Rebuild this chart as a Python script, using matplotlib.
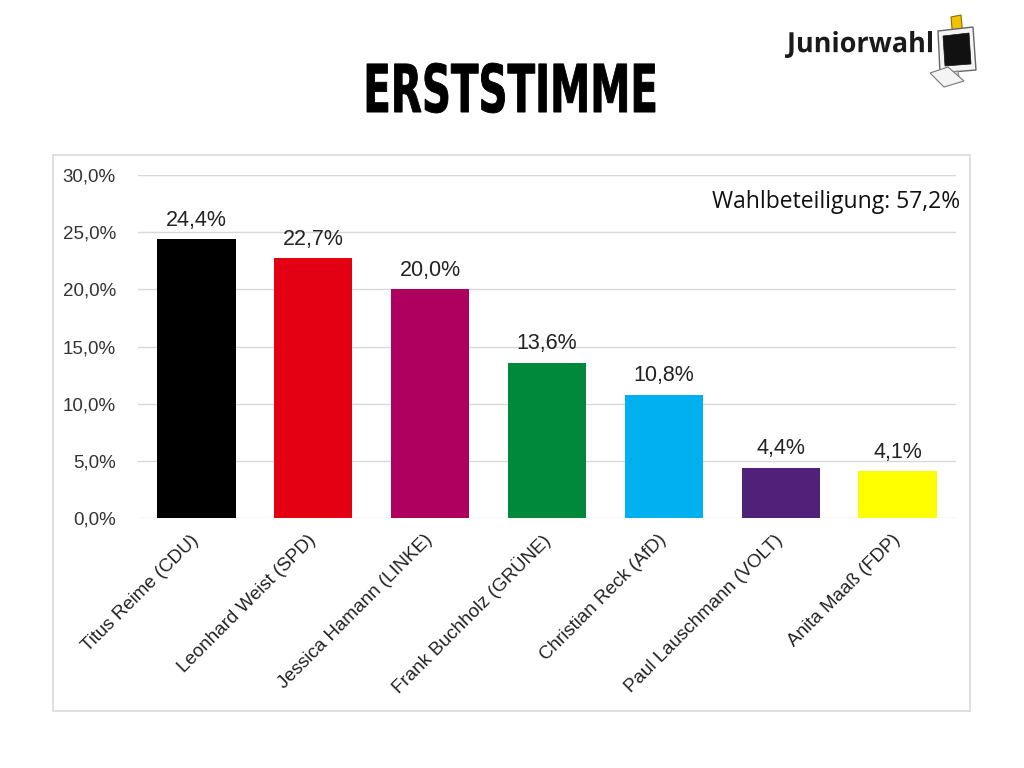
import numpy as np
import matplotlib.pyplot as plt
from matplotlib.patches import Rectangle, Polygon, PathPatch
from matplotlib.textpath import TextPath
from matplotlib.font_manager import FontProperties
from matplotlib.transforms import Affine2D, ScaledTranslation

candidates = [
    'Titus Reime (CDU)', 'Leonhard Weist (SPD)', 'Jessica Hamann (LINKE)',
    'Frank Buchholz (GRÜNE)', 'Christian Reck (AfD)', 'Paul Lauschmann (VOLT)',
    'Anita Maaß (FDP)',
]
shares = [24.4, 22.7, 20.0, 13.6, 10.8, 4.4, 4.1]
colors = ['#000000', '#E30013', '#B0005F', '#00893A', '#00B0F0', '#512179', '#FFFF00']
turnout = 57.2
yticks = [0, 5, 10, 15, 20, 25, 30]

W, H = 1024, 768


def de(v):
    return f'{v:.1f}'.replace('.', ',') + '%'


def px(xp, yp):
    # pixel position (from top-left) -> figure fraction
    return (xp / W, 1 - yp / H)


def fitted_text(fig, s, box, family, weight='bold', color='black', stroke=0.0):
    # draw text as a path stretched into a pixel box (x0, y0, x1, y1), y from top
    tp = TextPath((0, 0), s, size=100, prop=FontProperties(family=family, weight=weight))
    ext = tp.get_extents()
    x0, y0, x1, y1 = box
    tr = (Affine2D().translate(-ext.x0, -ext.y0)
          .scale((x1 - x0) / ext.width, (y1 - y0) / ext.height)
          .translate(x0, H - y1).scale(1 / W, 1 / H))
    fig.patches.append(PathPatch(tp, transform=tr + fig.transFigure, facecolor=color,
                                 edgecolor=color if stroke else 'none', lw=stroke))


plt.rcParams['font.family'] = ['Liberation Sans', 'DejaVu Sans']

fig = plt.figure(figsize=(W / 100, H / 100), dpi=100)
fig.patch.set_facecolor('white')

# chart frame
fig.patches.append(Rectangle(px(53, 711), 917 / W, 556 / H, transform=fig.transFigure,
                             fill=False, edgecolor='#d9d9d9', linewidth=1.2))

ax = fig.add_axes([138 / W, 1 - 518 / H, 818 / W, 343 / H])
x = np.arange(len(candidates))
ax.bar(x, shares, width=0.67, color=colors, zorder=3)
for xi, v in zip(x, shares):
    ax.annotate(de(v), (xi, v), xytext=(0, 6), textcoords='offset points',
                ha='center', va='bottom', fontsize=15.5, color='#222222')

ax.set_xlim(-0.5, len(candidates) - 0.5)
ax.set_ylim(0, 30)
ax.set_yticks(yticks)
ax.set_yticklabels([de(t) for t in yticks], fontsize=13.5, color='#333333')
ax.set_xticks(x)
ax.set_xticklabels(candidates, rotation=45, ha='right', va='center',
                   rotation_mode='anchor', fontsize=13.5, color='#222222')
shift = ScaledTranslation(6 / 100, 0, fig.dpi_scale_trans)
for lab in ax.get_xticklabels():
    lab.set_transform(lab.get_transform() + shift)
ax.tick_params(axis='y', length=0, pad=16)
ax.tick_params(axis='x', length=0, pad=14)
ax.yaxis.grid(True, color='#d9d9d9', linewidth=1, zorder=0)
for s in ax.spines.values():
    s.set_visible(False)

fig.text(960 / W, 1 - 202 / H, f'Wahlbeteiligung: {de(turnout)}',
         ha='right', va='center', fontsize=16.5, family=['Open Sans', 'DejaVu Sans'],
         color='#111111')

# title
fitted_text(fig, 'ERSTSTIMME', (367, 63, 655, 113), 'DejaVu Sans', stroke=0.6)

# logo
fitted_text(fig, 'Juniorwahl', (785, 31, 932, 58), 'Open Sans', color='#1a1a1a')

for p in [
    Polygon([px(951, 17), px(961, 15), px(963, 37), px(953, 39)],
            facecolor='#f2c200', edgecolor='#8a7000', lw=0.8),
    Polygon([px(938, 31), px(973, 27), px(976, 70), px(940, 73)],
            facecolor='#f4f4f4', edgecolor='#666666', lw=1.0),
    Polygon([px(943, 36), px(969, 33), px(971, 64), px(945, 66)],
            facecolor='#111111', edgecolor='#111111', lw=0.5),
    Polygon([px(952, 72), px(958, 71), px(959, 77), px(953, 78)],
            facecolor='#dddddd', edgecolor='#888888', lw=0.8),
    Polygon([px(930, 73), px(948, 67), px(964, 81), px(944, 87)],
            facecolor='#f4f4f4', edgecolor='#777777', lw=0.8),
]:
    p.set_transform(fig.transFigure)
    fig.patches.append(p)

fig.savefig('out.png', dpi=100, facecolor='white')
